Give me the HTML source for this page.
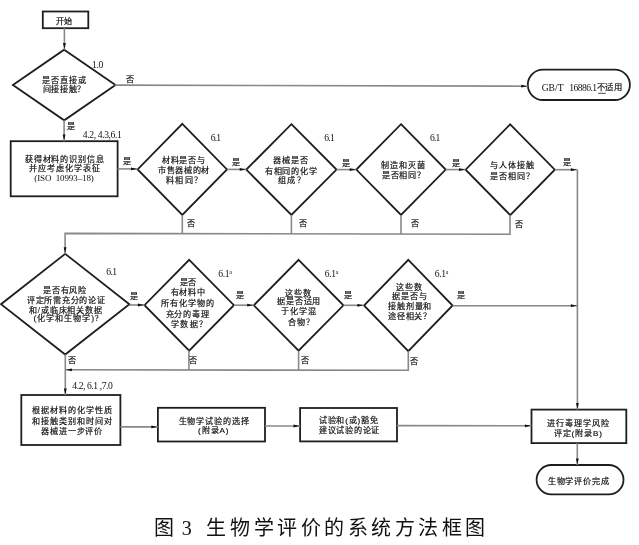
<!DOCTYPE html>
<html lang="zh-CN"><head><meta charset="utf-8"><style>
html,body{margin:0;padding:0;background:#fff;}
body{width:639px;height:545px;overflow:hidden;font-family:"Liberation Serif",serif;}
svg{display:block;filter:grayscale(1);}
text{fill:#111;}
.b{stroke:#111;stroke-width:0.2px;}
</style></head><body>
<svg width="639" height="545" viewBox="0 0 639 545">
<polygon points="64.2,49.70 115.50,85 64.2,120.30 12.90,85" fill="none" stroke="#1e1e1e" stroke-width="1.8" stroke-linejoin="miter"/>
<polygon points="182.3,123.80 227.00,169.4 182.3,215.00 137.60,169.4" fill="none" stroke="#1e1e1e" stroke-width="1.8" stroke-linejoin="miter"/>
<polygon points="291.4,124.20 336.50,169.6 291.4,215.00 246.30,169.6" fill="none" stroke="#1e1e1e" stroke-width="1.8" stroke-linejoin="miter"/>
<polygon points="401.0,124.20 445.70,169.6 401.0,215.00 356.30,169.6" fill="none" stroke="#1e1e1e" stroke-width="1.8" stroke-linejoin="miter"/>
<polygon points="510.2,124.30 554.80,169.7 510.2,215.10 465.60,169.7" fill="none" stroke="#1e1e1e" stroke-width="1.8" stroke-linejoin="miter"/>
<polygon points="65.2,253.90 129.40,304.2 65.2,354.50 1.00,304.2" fill="none" stroke="#1e1e1e" stroke-width="1.8" stroke-linejoin="miter"/>
<polygon points="189.2,259.80 233.90,305.2 189.2,350.60 144.50,305.2" fill="none" stroke="#1e1e1e" stroke-width="1.8" stroke-linejoin="miter"/>
<polygon points="298.6,259.90 343.40,305.3 298.6,350.70 253.80,305.3" fill="none" stroke="#1e1e1e" stroke-width="1.8" stroke-linejoin="miter"/>
<polygon points="408.3,259.90 452.60,305.5 408.3,351.10 364.00,305.5" fill="none" stroke="#1e1e1e" stroke-width="1.8" stroke-linejoin="miter"/>
<rect x="42.8" y="11.5" width="45.50" height="16.70" fill="none" stroke="#1e1e1e" stroke-width="1.8"/>
<rect x="10.7" y="141.2" width="106.90" height="55.10" fill="none" stroke="#1e1e1e" stroke-width="1.8"/>
<rect x="21.3" y="395.0" width="99.10" height="50.00" fill="none" stroke="#1e1e1e" stroke-width="1.8"/>
<rect x="157.9" y="407.8" width="107.10" height="33.70" fill="none" stroke="#1e1e1e" stroke-width="1.8"/>
<rect x="300.1" y="408.0" width="96.90" height="33.40" fill="none" stroke="#1e1e1e" stroke-width="1.8"/>
<rect x="531.5" y="409.6" width="94.80" height="33.50" fill="none" stroke="#1e1e1e" stroke-width="1.8"/>
<rect x="527.8" y="69.7" width="102.10" height="30.30" rx="15.15" ry="15.15" fill="none" stroke="#1e1e1e" stroke-width="1.8"/>
<rect x="536.6" y="465.0" width="86.90" height="29.40" rx="14.70" ry="14.70" fill="none" stroke="#1e1e1e" stroke-width="1.8"/>
<path d="M64.4,28.2 L64.4,49.7" fill="none" stroke="#888" stroke-width="1.6"/>
<polygon points="64.40,49.10 63.00,43.10 65.80,43.10" fill="#111"/>
<path d="M114.8,85.1 L527.8,86.2" fill="none" stroke="#888" stroke-width="1.6"/>
<polygon points="527.20,86.20 521.20,87.58 521.20,84.78" fill="#111"/>
<path d="M64.1,120.3 L64.1,141.2" fill="none" stroke="#888" stroke-width="1.6"/>
<polygon points="64.10,140.60 62.70,134.60 65.50,134.60" fill="#111"/>
<path d="M117.6,168.9 L137.6,168.9" fill="none" stroke="#888" stroke-width="1.6"/>
<polygon points="137.00,168.90 131.00,170.30 131.00,167.50" fill="#111"/>
<path d="M227.0,169.4 L246.3,169.4" fill="none" stroke="#888" stroke-width="1.6"/>
<polygon points="245.70,169.40 239.70,170.80 239.70,168.00" fill="#111"/>
<path d="M336.5,169.6 L356.3,169.6" fill="none" stroke="#888" stroke-width="1.6"/>
<polygon points="355.70,169.60 349.70,171.00 349.70,168.20" fill="#111"/>
<path d="M445.7,169.6 L465.6,169.6" fill="none" stroke="#888" stroke-width="1.6"/>
<polygon points="465.00,169.60 459.00,171.00 459.00,168.20" fill="#111"/>
<path d="M554.8,169.7 L577.4,169.7" fill="none" stroke="#888" stroke-width="1.6"/>
<polygon points="576.80,169.70 570.80,171.10 570.80,168.30" fill="#111"/>
<path d="M577.4,169.7 L577.4,409.6" fill="none" stroke="#888" stroke-width="1.6"/>
<polygon points="577.40,409.00 576.00,403.00 578.80,403.00" fill="#111"/>
<path d="M182.3,215.0 L182.3,233.8" fill="none" stroke="#888" stroke-width="1.6"/>
<path d="M291.4,215.0 L291.4,234.0" fill="none" stroke="#888" stroke-width="1.6"/>
<path d="M401.0,215.0 L401.0,234.2" fill="none" stroke="#888" stroke-width="1.6"/>
<path d="M510.0,215.1 L510.0,234.3 L65.1,233.4 L65.1,253.9" fill="none" stroke="#888" stroke-width="1.6"/>
<polygon points="65.10,253.30 63.70,247.30 66.50,247.30" fill="#111"/>
<path d="M129.4,305.0 L144.5,305.0" fill="none" stroke="#888" stroke-width="1.6"/>
<polygon points="143.90,305.00 137.90,306.40 137.90,303.60" fill="#111"/>
<path d="M233.9,305.2 L253.8,305.2" fill="none" stroke="#888" stroke-width="1.6"/>
<polygon points="253.20,305.20 247.20,306.60 247.20,303.80" fill="#111"/>
<path d="M343.4,305.3 L364.0,305.3" fill="none" stroke="#888" stroke-width="1.6"/>
<polygon points="363.40,305.30 357.40,306.70 357.40,303.90" fill="#111"/>
<path d="M452.6,305.7 L577.4,305.7" fill="none" stroke="#888" stroke-width="1.6"/>
<polygon points="576.80,305.70 570.80,307.10 570.80,304.30" fill="#111"/>
<path d="M188.9,350.6 L188.9,370.0" fill="none" stroke="#888" stroke-width="1.6"/>
<path d="M298.6,350.7 L298.6,370.1" fill="none" stroke="#888" stroke-width="1.6"/>
<path d="M408.3,351.0 L408.3,370.3 L65.3,369.8" fill="none" stroke="#888" stroke-width="1.6"/>
<polygon points="65.90,369.80 71.90,368.41 71.90,371.21" fill="#111"/>
<path d="M65.3,354.5 L65.3,395.0" fill="none" stroke="#888" stroke-width="1.6"/>
<polygon points="65.30,394.40 63.90,388.40 66.70,388.40" fill="#111"/>
<path d="M120.4,426.9 L157.9,426.9" fill="none" stroke="#888" stroke-width="1.6"/>
<polygon points="157.30,426.90 151.30,428.30 151.30,425.50" fill="#111"/>
<path d="M265.0,426.0 L300.1,426.0" fill="none" stroke="#888" stroke-width="1.6"/>
<polygon points="299.50,426.00 293.50,427.40 293.50,424.60" fill="#111"/>
<path d="M397.0,425.6 L531.5,425.8" fill="none" stroke="#888" stroke-width="1.6"/>
<polygon points="530.90,425.80 524.90,427.19 524.90,424.39" fill="#111"/>
<path d="M577.3,443.1 L577.3,465.0" fill="none" stroke="#888" stroke-width="1.6"/>
<polygon points="577.30,464.40 575.90,458.40 578.70,458.40" fill="#111"/>
<text id="t0" class="b" x="63.50" y="23.80" font-size="8.10" font-family="Liberation Serif, serif" font-weight="normal" text-anchor="middle" xml:space="preserve">开始</text>
<text id="t1" class="b" x="64.50" y="82.50" font-size="8.10" font-family="Liberation Serif, serif" font-weight="normal" text-anchor="middle" letter-spacing="1.02" xml:space="preserve">是否直接或</text>
<text id="t2" class="b" x="64.25" y="92.20" font-size="8.10" font-family="Liberation Serif, serif" font-weight="normal" text-anchor="middle" letter-spacing="0.70" xml:space="preserve">间接接触？</text>
<text id="t3" x="97.50" y="67.70" font-size="9.60" font-family="Liberation Serif, serif" font-weight="normal" text-anchor="middle" letter-spacing="-0.35" xml:space="preserve">1.0</text>
<text id="t4" class="b" x="129.80" y="82.10" font-size="8.10" font-family="Liberation Serif, serif" font-weight="normal" text-anchor="middle" xml:space="preserve">否</text>
<text id="t5" x="552.70" y="91.40" font-size="9.60" font-family="Liberation Serif, serif" font-weight="normal" text-anchor="middle" letter-spacing="0.07" xml:space="preserve">GB/T</text>
<text id="t6" class="b" x="71.20" y="128.80" font-size="8.10" font-family="Liberation Serif, serif" font-weight="normal" text-anchor="middle" xml:space="preserve">是</text>
<text id="t7" x="102.15" y="138.10" font-size="9.60" font-family="Liberation Serif, serif" font-weight="normal" text-anchor="middle" letter-spacing="-0.38" xml:space="preserve">4.2, 4.3,6.1</text>
<text id="t8" class="b" x="64.70" y="161.70" font-size="8.10" font-family="Liberation Serif, serif" font-weight="normal" text-anchor="middle" letter-spacing="0.81" xml:space="preserve">获得材料的识别信息</text>
<text id="t9" class="b" x="65.05" y="171.40" font-size="8.10" font-family="Liberation Serif, serif" font-weight="normal" text-anchor="middle" letter-spacing="0.97" xml:space="preserve">并应考虑化学表征</text>
<text id="t10" x="64.00" y="181.40" font-size="9.00" font-family="Liberation Serif, serif" font-weight="normal" text-anchor="middle" letter-spacing="-0.10" xml:space="preserve">(ISO  10993–18)</text>
<text id="t11" class="b" x="126.70" y="164.40" font-size="8.10" font-family="Liberation Serif, serif" font-weight="normal" text-anchor="middle" xml:space="preserve">是</text>
<text id="t12" x="215.50" y="140.60" font-size="9.60" font-family="Liberation Serif, serif" font-weight="normal" text-anchor="middle" letter-spacing="-0.75" xml:space="preserve">6.1</text>
<text id="t13" class="b" x="183.70" y="163.40" font-size="8.10" font-family="Liberation Serif, serif" font-weight="normal" text-anchor="middle" letter-spacing="0.72" xml:space="preserve">材料是否与</text>
<text id="t14" class="b" x="183.95" y="173.40" font-size="8.10" font-family="Liberation Serif, serif" font-weight="normal" text-anchor="middle" letter-spacing="0.60" xml:space="preserve">市售器械的材</text>
<text id="t15" class="b" x="184.85" y="183.30" font-size="8.10" font-family="Liberation Serif, serif" font-weight="normal" text-anchor="middle" letter-spacing="1.47" xml:space="preserve">料相同？</text>
<text id="t16" class="b" x="235.85" y="165.30" font-size="8.10" font-family="Liberation Serif, serif" font-weight="normal" text-anchor="middle" xml:space="preserve">是</text>
<text id="t17" x="329.20" y="140.70" font-size="9.60" font-family="Liberation Serif, serif" font-weight="normal" text-anchor="middle" letter-spacing="-0.75" xml:space="preserve">6.1</text>
<text id="t18" class="b" x="291.25" y="163.20" font-size="8.10" font-family="Liberation Serif, serif" font-weight="normal" text-anchor="middle" letter-spacing="1.07" xml:space="preserve">器械是否</text>
<text id="t19" class="b" x="291.25" y="173.90" font-size="8.10" font-family="Liberation Serif, serif" font-weight="normal" text-anchor="middle" letter-spacing="0.84" xml:space="preserve">有相同的化学</text>
<text id="t20" class="b" x="291.95" y="183.30" font-size="8.10" font-family="Liberation Serif, serif" font-weight="normal" text-anchor="middle" letter-spacing="1.30" xml:space="preserve">组成？</text>
<text id="t21" class="b" x="345.60" y="165.90" font-size="8.10" font-family="Liberation Serif, serif" font-weight="normal" text-anchor="middle" xml:space="preserve">是</text>
<text id="t22" x="434.80" y="140.70" font-size="9.60" font-family="Liberation Serif, serif" font-weight="normal" text-anchor="middle" letter-spacing="-0.75" xml:space="preserve">6.1</text>
<text id="t23" class="b" x="403.35" y="167.80" font-size="8.10" font-family="Liberation Serif, serif" font-weight="normal" text-anchor="middle" letter-spacing="0.80" xml:space="preserve">制造和灭菌</text>
<text id="t24" class="b" x="403.65" y="178.10" font-size="8.10" font-family="Liberation Serif, serif" font-weight="normal" text-anchor="middle" letter-spacing="0.75" xml:space="preserve">是否相同？</text>
<text id="t25" class="b" x="455.85" y="165.90" font-size="8.10" font-family="Liberation Serif, serif" font-weight="normal" text-anchor="middle" xml:space="preserve">是</text>
<text id="t26" class="b" x="512.55" y="167.90" font-size="8.10" font-family="Liberation Serif, serif" font-weight="normal" text-anchor="middle" letter-spacing="0.95" xml:space="preserve">与人体接触</text>
<text id="t27" class="b" x="512.55" y="178.50" font-size="8.10" font-family="Liberation Serif, serif" font-weight="normal" text-anchor="middle" letter-spacing="0.95" xml:space="preserve">是否相同？</text>
<text id="t28" class="b" x="567.05" y="165.10" font-size="8.10" font-family="Liberation Serif, serif" font-weight="normal" text-anchor="middle" xml:space="preserve">是</text>
<text id="t29" class="b" x="191.30" y="226.10" font-size="8.10" font-family="Liberation Serif, serif" font-weight="normal" text-anchor="middle" xml:space="preserve">否</text>
<text id="t30" class="b" x="302.90" y="226.30" font-size="8.10" font-family="Liberation Serif, serif" font-weight="normal" text-anchor="middle" xml:space="preserve">否</text>
<text id="t31" class="b" x="414.65" y="226.30" font-size="8.10" font-family="Liberation Serif, serif" font-weight="normal" text-anchor="middle" xml:space="preserve">否</text>
<text id="t32" class="b" x="519.30" y="227.30" font-size="8.10" font-family="Liberation Serif, serif" font-weight="normal" text-anchor="middle" xml:space="preserve">否</text>
<text id="t33" x="111.30" y="274.90" font-size="9.60" font-family="Liberation Serif, serif" font-weight="normal" text-anchor="middle" letter-spacing="-0.65" xml:space="preserve">6.1</text>
<text id="t34" class="b" x="64.90" y="292.70" font-size="8.10" font-family="Liberation Serif, serif" font-weight="normal" text-anchor="middle" letter-spacing="0.57" xml:space="preserve">是否有风险</text>
<text id="t35" class="b" x="66.25" y="302.90" font-size="8.10" font-family="Liberation Serif, serif" font-weight="normal" text-anchor="middle" letter-spacing="0.78" xml:space="preserve">评定所需充分的论证</text>
<text id="t36" class="b" x="65.90" y="312.70" font-size="8.10" font-family="Liberation Serif, serif" font-weight="normal" text-anchor="middle" letter-spacing="0.84" xml:space="preserve">和/或临床相关数据</text>
<text id="t37" class="b" x="66.70" y="321.10" font-size="8.10" font-family="Liberation Serif, serif" font-weight="normal" text-anchor="middle" letter-spacing="0.99" xml:space="preserve">(化学和生物学)?</text>
<text id="t38" class="b" x="133.65" y="298.90" font-size="8.10" font-family="Liberation Serif, serif" font-weight="normal" text-anchor="middle" xml:space="preserve">是</text>
<text id="t39" x="225.00" y="276.90" font-size="9.60" font-family="Liberation Serif, serif" font-weight="normal" text-anchor="middle" letter-spacing="-0.30" xml:space="preserve">6.1<tspan font-size="6" dy="-3.3">a</tspan></text>
<text id="t40" class="b" x="188.35" y="285.40" font-size="8.10" font-family="Liberation Serif, serif" font-weight="normal" text-anchor="middle" xml:space="preserve">是否</text>
<text id="t41" class="b" x="188.05" y="295.30" font-size="8.10" font-family="Liberation Serif, serif" font-weight="normal" text-anchor="middle" letter-spacing="0.60" xml:space="preserve">有材料中</text>
<text id="t42" class="b" x="187.90" y="305.70" font-size="8.10" font-family="Liberation Serif, serif" font-weight="normal" text-anchor="middle" letter-spacing="0.82" xml:space="preserve">所有化学物的</text>
<text id="t43" class="b" x="187.90" y="316.50" font-size="8.10" font-family="Liberation Serif, serif" font-weight="normal" text-anchor="middle" letter-spacing="0.93" xml:space="preserve">充分的毒理</text>
<text id="t44" class="b" x="189.65" y="326.70" font-size="8.10" font-family="Liberation Serif, serif" font-weight="normal" text-anchor="middle" letter-spacing="1.47" xml:space="preserve">学数据？</text>
<text id="t45" class="b" x="240.05" y="298.30" font-size="8.10" font-family="Liberation Serif, serif" font-weight="normal" text-anchor="middle" xml:space="preserve">是</text>
<text id="t46" x="331.50" y="276.90" font-size="9.60" font-family="Liberation Serif, serif" font-weight="normal" text-anchor="middle" letter-spacing="-0.30" xml:space="preserve">6.1<tspan font-size="6" dy="-3.3">a</tspan></text>
<text id="t47" class="b" x="298.75" y="295.60" font-size="8.10" font-family="Liberation Serif, serif" font-weight="normal" text-anchor="middle" letter-spacing="1.00" xml:space="preserve">这些数</text>
<text id="t48" class="b" x="299.25" y="304.30" font-size="8.10" font-family="Liberation Serif, serif" font-weight="normal" text-anchor="middle" letter-spacing="0.75" xml:space="preserve">据是否适用</text>
<text id="t49" class="b" x="298.95" y="314.00" font-size="8.10" font-family="Liberation Serif, serif" font-weight="normal" text-anchor="middle" letter-spacing="1.07" xml:space="preserve">于化学混</text>
<text id="t50" class="b" x="301.65" y="324.70" font-size="8.10" font-family="Liberation Serif, serif" font-weight="normal" text-anchor="middle" letter-spacing="0.90" xml:space="preserve">合物？</text>
<text id="t51" class="b" x="347.55" y="298.30" font-size="8.10" font-family="Liberation Serif, serif" font-weight="normal" text-anchor="middle" xml:space="preserve">是</text>
<text id="t52" x="441.50" y="276.90" font-size="9.60" font-family="Liberation Serif, serif" font-weight="normal" text-anchor="middle" letter-spacing="-0.30" xml:space="preserve">6.1<tspan font-size="6" dy="-3.3">a</tspan></text>
<text id="t53" class="b" x="409.65" y="290.10" font-size="8.10" font-family="Liberation Serif, serif" font-weight="normal" text-anchor="middle" letter-spacing="1.00" xml:space="preserve">这些数</text>
<text id="t54" class="b" x="409.80" y="298.70" font-size="8.10" font-family="Liberation Serif, serif" font-weight="normal" text-anchor="middle" letter-spacing="0.83" xml:space="preserve">据是否与</text>
<text id="t55" class="b" x="410.10" y="309.20" font-size="8.10" font-family="Liberation Serif, serif" font-weight="normal" text-anchor="middle" letter-spacing="0.93" xml:space="preserve">接触剂量和</text>
<text id="t56" class="b" x="410.05" y="319.10" font-size="8.10" font-family="Liberation Serif, serif" font-weight="normal" text-anchor="middle" letter-spacing="0.85" xml:space="preserve">途径相关？</text>
<text id="t57" class="b" x="460.80" y="298.30" font-size="8.10" font-family="Liberation Serif, serif" font-weight="normal" text-anchor="middle" xml:space="preserve">是</text>
<text id="t58" class="b" x="72.45" y="363.20" font-size="8.10" font-family="Liberation Serif, serif" font-weight="normal" text-anchor="middle" xml:space="preserve">否</text>
<text id="t59" class="b" x="193.35" y="363.20" font-size="8.10" font-family="Liberation Serif, serif" font-weight="normal" text-anchor="middle" xml:space="preserve">否</text>
<text id="t60" class="b" x="305.15" y="363.30" font-size="8.10" font-family="Liberation Serif, serif" font-weight="normal" text-anchor="middle" xml:space="preserve">否</text>
<text id="t61" class="b" x="413.95" y="364.10" font-size="8.10" font-family="Liberation Serif, serif" font-weight="normal" text-anchor="middle" xml:space="preserve">否</text>
<text id="t62" x="92.35" y="388.80" font-size="9.60" font-family="Liberation Serif, serif" font-weight="normal" text-anchor="middle" letter-spacing="-0.42" xml:space="preserve">4.2, 6.1 ,7.0</text>
<text id="t63" class="b" x="72.50" y="413.40" font-size="8.10" font-family="Liberation Serif, serif" font-weight="normal" text-anchor="middle" letter-spacing="0.89" xml:space="preserve">根据材料的化学性质</text>
<text id="t64" class="b" x="72.50" y="423.90" font-size="8.10" font-family="Liberation Serif, serif" font-weight="normal" text-anchor="middle" letter-spacing="0.89" xml:space="preserve">和接触类别和时间对</text>
<text id="t65" class="b" x="72.10" y="434.10" font-size="8.10" font-family="Liberation Serif, serif" font-weight="normal" text-anchor="middle" letter-spacing="0.92" xml:space="preserve">器械进一步评价</text>
<text id="t66" class="b" x="214.15" y="423.80" font-size="8.10" font-family="Liberation Sans, sans" font-weight="normal" text-anchor="middle" letter-spacing="0.89" xml:space="preserve">生物学试验的选择</text>
<text id="t67" class="b" x="213.70" y="433.00" font-size="8.10" font-family="Liberation Sans, sans" font-weight="normal" text-anchor="middle" letter-spacing="0.88" xml:space="preserve">(附录A)</text>
<text id="t68" class="b" x="348.65" y="423.30" font-size="8.10" font-family="Liberation Sans, sans" font-weight="normal" text-anchor="middle" letter-spacing="0.77" xml:space="preserve">试验和(或)豁免</text>
<text id="t69" class="b" x="349.50" y="433.20" font-size="8.10" font-family="Liberation Sans, sans" font-weight="normal" text-anchor="middle" letter-spacing="0.75" xml:space="preserve">建议试验的论证</text>
<text id="t70" class="b" x="578.40" y="425.90" font-size="8.10" font-family="Liberation Sans, sans" font-weight="normal" text-anchor="middle" letter-spacing="0.88" xml:space="preserve">进行毒理学风险</text>
<text id="t71" class="b" x="578.25" y="435.90" font-size="8.10" font-family="Liberation Sans, sans" font-weight="normal" text-anchor="middle" letter-spacing="0.90" xml:space="preserve">评定(附录B)</text>
<text id="t72" class="b" x="578.85" y="483.50" font-size="8.10" font-family="Liberation Sans, sans" font-weight="normal" text-anchor="middle" letter-spacing="0.90" xml:space="preserve">生物学评价完成</text>
<text id="t73" x="163.65" y="535.10" font-size="20.00" font-family="Liberation Serif, serif" font-weight="normal" text-anchor="middle" xml:space="preserve">图</text>
<text id="t74" x="186.70" y="534.70" font-size="20.00" font-family="Liberation Serif, serif" font-weight="normal" text-anchor="middle" xml:space="preserve">3</text>
<text id="t75" x="347.75" y="535.10" font-size="20.00" font-family="Liberation Serif, serif" font-weight="normal" text-anchor="middle" letter-spacing="3.55" xml:space="preserve">生物学评价的系统方法框图</text>
<text id="t76" x="582.90" y="91.40" font-size="9.60" font-family="Liberation Serif, serif" font-weight="normal" text-anchor="middle" letter-spacing="-0.53" xml:space="preserve">16886.1</text>
<text id="t77" class="b" x="609.40" y="90.20" font-size="8.30" font-family="Liberation Serif, serif" font-weight="normal" text-anchor="middle" letter-spacing="0.40" xml:space="preserve">不适用</text>
<line x1="598.2" y1="93.3" x2="605.8" y2="93.3" stroke="#333" stroke-width="0.9"/>
</svg>
</body></html>
